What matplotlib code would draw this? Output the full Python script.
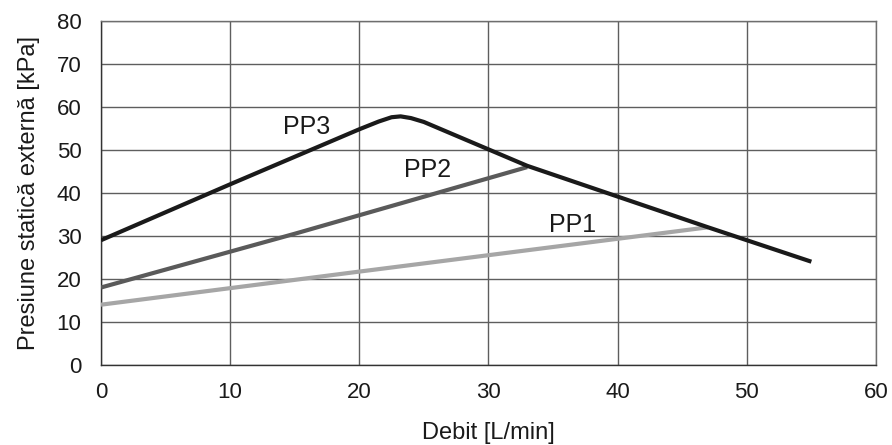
import matplotlib
matplotlib.use("Agg")
import matplotlib.pyplot as plt

plt.rcParams['font.family'] = ['Liberation Sans', 'DejaVu Sans']

# Pump curves: flow [L/min] vs external static pressure [kPa]
pp3_x = [0, 10, 20, 21.5, 22.5, 23.2, 24, 25, 33, 47, 55]
pp3_y = [29, 42, 54.8, 56.6, 57.6, 57.8, 57.4, 56.5, 46.3, 32, 24]
pp2_x = [0, 15, 33]
pp2_y = [18, 30.5, 46]
pp1_x = [0, 20, 47]
pp1_y = [14, 21.7, 32]

labels = ["PP3", "PP2", "PP1"]
label_pos = [(15.9, 55.3), (25.3, 45.3), (36.5, 32.6)]

fig = plt.figure(figsize=(8.92, 4.45), dpi=100)
ax = fig.add_axes([0.1132, 0.18, 0.8688, 0.773])

ax.plot(pp1_x, pp1_y, color="#a6a6a6", lw=3.0, solid_capstyle="butt", zorder=3)
ax.plot(pp2_x, pp2_y, color="#5a5a5a", lw=3.0, solid_capstyle="butt", zorder=4)
ax.plot(pp3_x, pp3_y, color="#1a1a1a", lw=3.0, solid_capstyle="butt", zorder=5)

for t, (x, y) in zip(labels, label_pos):
    ax.text(x, y, t, fontsize=18, ha="center", va="center", color="#1a1a1a", zorder=6)

ax.set_xlim(0, 60)
ax.set_ylim(0, 80)
ax.set_xticks(range(0, 61, 10))
ax.set_yticks(range(0, 81, 10))
ax.grid(True, color="#5e5e5e", lw=1.0)
ax.set_axisbelow(True)
for s in ax.spines.values():
    s.set_color("#6e6e6e")
    s.set_linewidth(1.0)
ax.spines['left'].set_color("#333333")
ax.spines['bottom'].set_color("#333333")
ax.tick_params(axis="x", length=0, labelsize=16, pad=12, colors="#1a1a1a")
ax.tick_params(axis="y", length=0, labelsize=16, pad=14, colors="#1a1a1a")
ax.set_xlabel("Debit [L/min]", fontsize=17, labelpad=14, color="#1a1a1a")
ax.set_ylabel("Presiune statică externă [kPa]", fontsize=17, labelpad=12, color="#1a1a1a")

fig.savefig("out.png", dpi=100)
